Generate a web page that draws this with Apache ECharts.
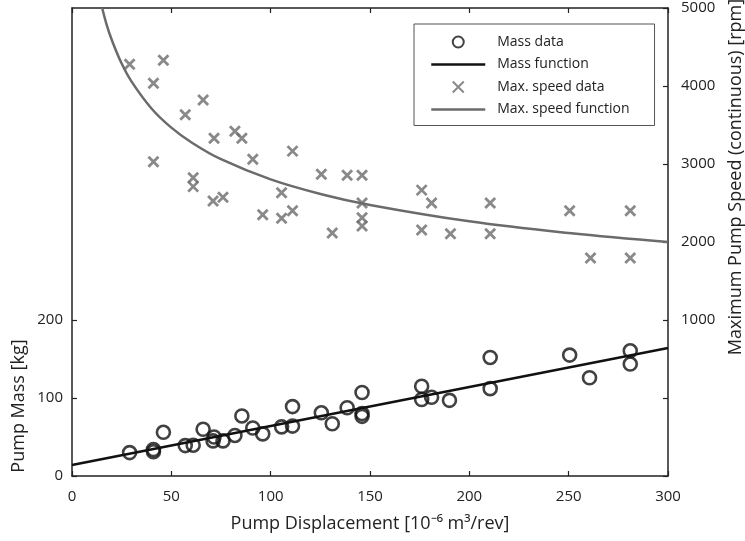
<!DOCTYPE html>
<html>
<head>
<meta charset="utf-8">
<script src="https://cdn.jsdelivr.net/npm/echarts@6/dist/echarts.min.js"></script>
<style>html,body{margin:0;padding:0;background:#fff}#c{width:745px;height:541px}</style>
</head>
<body>
<div id="c"></div>
<script>
// Displacement ticks
var xTicks = [0, 50, 100, 150, 200, 250, 300];
var massTickLabels = [0, 100, 200];
var speedTickLabels = [1000, 2000, 3000, 4000, 5000];

// Mass data (displacement, kg)
var massX = [29, 41, 41, 46, 57, 61, 66, 71.5, 71, 76, 82, 85.5, 91, 96, 105.5, 111, 111, 125.5, 131, 138.5, 146, 146, 146, 176, 176, 181, 190, 210.5, 210.5, 250.5, 260.5, 281, 281];
var massY = [30, 34, 31, 56, 39, 39.5, 60, 50, 45, 45, 52, 77, 61.5, 54, 63, 89, 64, 81, 67, 87.5, 107, 80, 76.5, 115, 98, 101, 97, 152, 112, 155, 126, 160.5, 143.5];

// Mass function (read endpoints)
var massFnX = [0, 300];
var massFnY = [14, 164];

// Max speed data (displacement, rpm)
var speedX = [29, 41, 46, 41, 57, 66, 61, 61, 71.5, 71, 76, 82, 85.5, 91, 96, 105.5, 105.5, 111, 111, 125.5, 131, 138.5, 146, 146, 146, 146, 176, 176, 181, 190.5, 210.5, 210.5, 250.5, 261, 281, 281];
var speedY = [4280, 4035, 4330, 3030, 3630, 3820, 2825, 2710, 3330, 2525, 2575, 3420, 3330, 3060, 2350, 2630, 2305, 3165, 2400, 2870, 2115, 2855, 2855, 2500, 2310, 2205, 2665, 2155, 2500, 2105, 2500, 2105, 2400, 1795, 2400, 1795];

// Max speed function
var speedFnX = [15.2, 17.5, 20, 25, 30, 40, 50, 60, 75, 100, 125, 150, 200, 250, 300];
var speedFnY = [5000, 4780, 4592, 4288, 4056, 3712, 3466, 3279, 3061, 2802, 2616, 2475, 2265, 2115, 2000];

function zip(a, b) { return a.map(function (v, i) { return [v, b[i]]; }); }

var FONT = 'Open Sans';
var TXT = '#222';
var AX = '#222';
var GRAY = '#6b6b6b';
var CROSS = 'path://M0,0L10,10M10,0L0,10';
var plain = function (v) { return String(v); };

// layout: main grid spans 8..476; mass axis (0..200) occupies lower third
var W = 745, H = 541, TOP = 8, BOTTOM = 65;
var plotH = H - TOP - BOTTOM;
var massTop = TOP + plotH * (400 / 600);

var chart = echarts.init(document.getElementById('c'), null, {renderer: 'canvas'});
chart.setOption({
  animation: false,
  backgroundColor: '#fff',
  grid: [
    {left: 72, right: 77, top: TOP, bottom: BOTTOM, containLabel: false},
    {left: 72, right: 77, top: massTop, bottom: BOTTOM, containLabel: false}
  ],
  legend: {
    orient: 'vertical',
    left: 414, top: 24,
    padding: [11, 25, 9, 16],
    itemGap: 8.5,
    itemWidth: 54,
    itemHeight: 11,
    borderColor: '#555',
    borderWidth: 1,
    backgroundColor: '#fff',
    textStyle: {fontFamily: FONT, fontSize: 14, color: TXT, padding: [0, 0, 0, 7]},
    data: [
      {name: 'Mass data'},
      {name: 'Mass function', itemStyle: {color: 'transparent', borderWidth: 0},
        lineStyle: {color: '#111', width: 2.5}},
      {name: 'Max. speed data'},
      {name: 'Max. speed function', itemStyle: {color: 'transparent', borderWidth: 0},
        lineStyle: {color: GRAY, width: 2.5}}
    ]
  },
  xAxis: [{
    gridIndex: 0, type: 'value', min: 0, max: 300, interval: 50, position: 'bottom',
    name: 'Pump Displacement [10\u207B\u2076 m\u00B3/rev]',
    nameLocation: 'middle', nameGap: 39,
    nameTextStyle: {fontFamily: FONT, fontSize: 18, color: TXT},
    axisLine: {show: true, onZero: false, lineStyle: {color: AX, width: 1.5}},
    axisTick: {show: true, inside: true, length: 5, lineStyle: {color: AX, width: 1.2}},
    axisLabel: {fontFamily: FONT, fontSize: 15, color: TXT, margin: 13, formatter: plain},
    splitLine: {show: false}
  }, {
    gridIndex: 0, type: 'value', min: 0, max: 300, interval: 50, position: 'top',
    axisLine: {show: true, onZero: false, lineStyle: {color: AX, width: 1.5}},
    axisTick: {show: true, inside: true, length: 5, lineStyle: {color: AX, width: 1.2}},
    axisLabel: {show: false},
    splitLine: {show: false}
  }, {
    gridIndex: 1, type: 'value', min: 0, max: 300, show: false
  }],
  yAxis: [{
    gridIndex: 0, type: 'value', min: 0, max: 600, position: 'left',
    axisLine: {show: true, onZero: false, lineStyle: {color: AX, width: 1.5}},
    axisTick: {show: false},
    axisLabel: {show: false},
    splitLine: {show: false}
  }, {
    gridIndex: 0, type: 'value', min: -1000, max: 5000, interval: 1000, position: 'right',
    axisLine: {show: true, onZero: false, lineStyle: {color: AX, width: 1.5}},
    axisTick: {show: true, inside: true, length: 5, lineStyle: {color: AX, width: 1.2}},
    axisLabel: {fontFamily: FONT, fontSize: 15, color: TXT, margin: 13, formatter: plain,
      customValues: speedTickLabels},
    splitLine: {show: false}
  }, {
    gridIndex: 1, type: 'value', min: 0, max: 200, interval: 100, position: 'left',
    axisLine: {show: false, onZero: false},
    axisTick: {show: true, inside: true, length: 5, lineStyle: {color: AX, width: 1.2}},
    axisLabel: {fontFamily: FONT, fontSize: 15, color: TXT, margin: 9, formatter: plain,
      customValues: massTickLabels},
    splitLine: {show: false}
  }],
  graphic: [{
    type: 'text', x: 19, y: 406, rotation: Math.PI / 2,
    style: {text: 'Pump Mass [kg]', fontFamily: FONT, fontSize: 18, fill: TXT,
      align: 'center', verticalAlign: 'middle'}
  }, {
    type: 'text', x: 736, y: 177, rotation: Math.PI / 2,
    style: {text: 'Maximum Pump Speed (continuous) [rpm]', fontFamily: FONT, fontSize: 18, fill: TXT,
      align: 'center', verticalAlign: 'middle'}
  }],
  series: [{
    name: 'Mass data', type: 'scatter', xAxisIndex: 2, yAxisIndex: 2,
    symbol: 'circle', symbolSize: 13,
    itemStyle: {color: 'transparent', borderColor: '#111', borderWidth: 2.6},
    data: zip(massX, massY), z: 5
  }, {
    name: 'Mass function', type: 'line', xAxisIndex: 2, yAxisIndex: 2,
    showSymbol: false, symbol: 'circle',
    lineStyle: {color: '#111', width: 2.5},
    itemStyle: {color: 'transparent', borderWidth: 0},
    data: zip(massFnX, massFnY), z: 4
  }, {
    name: 'Max. speed data', type: 'scatter', xAxisIndex: 0, yAxisIndex: 1,
    symbol: CROSS, symbolSize: 10,
    itemStyle: {color: 'transparent', borderColor: GRAY, borderWidth: 2.8},
    data: zip(speedX, speedY), z: 5
  }, {
    name: 'Max. speed function', type: 'line', xAxisIndex: 0, yAxisIndex: 1,
    showSymbol: false, symbol: 'circle', smooth: 0.4,
    lineStyle: {color: GRAY, width: 2.5},
    itemStyle: {color: 'transparent', borderWidth: 0},
    data: zip(speedFnX, speedFnY), z: 4
  }]
});
</script>
</body>
</html>
